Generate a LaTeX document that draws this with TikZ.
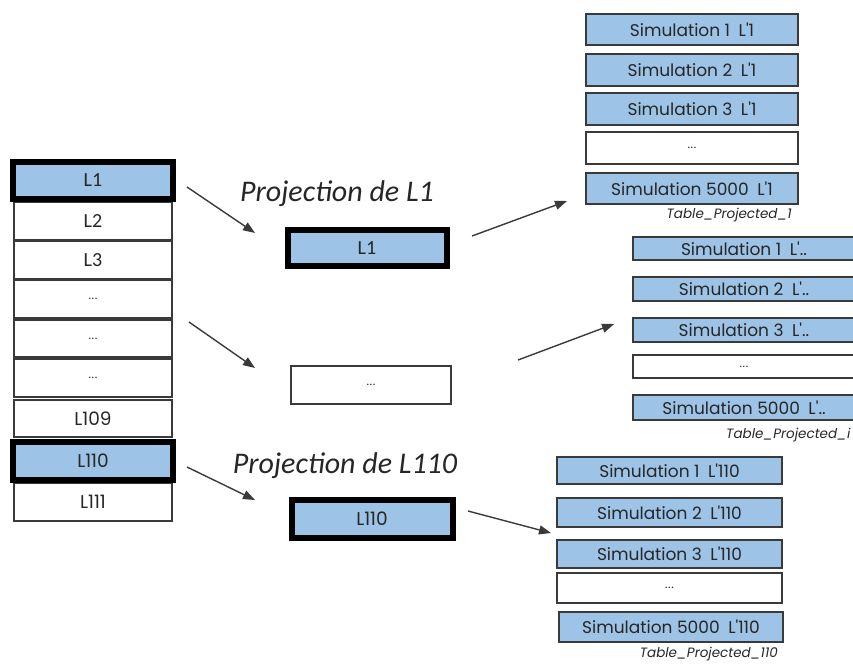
\documentclass[tikz,border=0pt]{standalone}
\usepackage{fontspec}
\setmainfont{Carlito}
\newfontfamily\simfont{Poppins}
\usetikzlibrary{arrows.meta}
\definecolor{cellblue}{HTML}{9DC3E6}
\definecolor{edgegray}{HTML}{3A3A3A}
\definecolor{inkgray}{HTML}{262626}
\tikzset{
  cell/.style={draw=edgegray, line width=1.3pt, rectangle, inner sep=0pt,
    text=inkgray, font=\fontsize{20}{22}\selectfont},
  hot/.style={cell, draw=black, line width=6pt, fill=cellblue},
  geo/.style={font=\simfont\fontsize{18.5}{20}\selectfont},
  dots/.style={font=\fontsize{12}{14}\selectfont},
  simcell/.style={draw=edgegray, line width=1.3pt, rectangle, inner sep=0pt,
    text=inkgray, font=\simfont\fontsize{17}{19}\selectfont},
  simblue/.style={simcell, fill=cellblue},
  tablename/.style={inner sep=0pt, text=inkgray, font=\simfont\itshape\fontsize{13.5}{15}\selectfont},
  heading/.style={inner sep=0pt, text=inkgray, font=\itshape\fontsize{30}{34}\selectfont},
  flow/.style={draw=edgegray, line width=1.4pt, -{Triangle[length=12pt,width=9pt]}}
}
\begin{document}
\begin{tikzpicture}[x=1pt,y=-1pt]
\useasboundingbox (0,0) rectangle (853,664);

% source column of lines
\node[cell, minimum width=158, minimum height=38] (l2)   at (93,221)   {L2};
\node[cell, minimum width=158, minimum height=38] (l3)   at (93,260)   {L3};
\node[cell, dots, minimum width=158, minimum height=38] (d1)   at (93,299)   {...};
\node[cell, dots, minimum width=158, minimum height=37] (d2)   at (93,338.5) {...};
\node[cell, dots, minimum width=158, minimum height=38] (d3)   at (93,378)   {...};
\node[cell, geo, minimum width=158, minimum height=37] (l109) at (93,418.5) {L109};
\node[cell, geo, minimum width=158, minimum height=38] (l111) at (93,502)   {L111};
\node[hot,  minimum width=160, minimum height=37] (l1)   at (93,180.5) {L1};
\node[hot,  geo, minimum width=160, minimum height=38] (l110) at (93,461)   {L110};

% projected lines
\node[heading] (h1)   at (337,194) {Projection de L1};
\node[hot,  minimum width=159, minimum height=36] (p1)   at (367,248)   {L1};
\node[cell, dots, minimum width=160, minimum height=38] (pd)   at (371,385)   {...};
\node[heading] (h110) at (345,466) {Projection de L110};
\node[hot,  geo, minimum width=161, minimum height=38] (p110) at (372,518.5) {L110};

% table for L1
\node[simblue, minimum width=212, minimum height=31] (ta1) at (692,29.5)  {Simulation 1\enspace L'1};
\node[simblue, minimum width=212, minimum height=32] (ta2) at (692,70)    {Simulation 2\enspace L'1};
\node[simblue, minimum width=212, minimum height=32] (ta3) at (692,109)   {Simulation 3\enspace L'1};
\node[simcell, dots, minimum width=212, minimum height=32] (ta4) at (692,148)   {...};
\node[simblue, minimum width=212, minimum height=31] (ta5) at (692,188.5) {Simulation 5000\enspace L'1};
\node[tablename, anchor=east] (tna) at (792,215) {Table\_Projected\_1};

% table for an intermediate line
\node[simblue, minimum width=222, minimum height=23] (tb1) at (744,248.5) {Simulation 1\enspace L'..};
\node[simblue, minimum width=222, minimum height=24] (tb2) at (744,289)   {Simulation 2\enspace L'..};
\node[simblue, minimum width=222, minimum height=24] (tb3) at (744,330)   {Simulation 3\enspace L'..};
\node[simcell, dots, minimum width=222, minimum height=23] (tb4) at (744,366.5) {...};
\node[simblue, minimum width=222, minimum height=25] (tb5) at (744,407.5) {Simulation 5000\enspace L'..};
\node[tablename, anchor=west] (tnb) at (726,435) {Table\_Projected\_i};

% table for L110
\node[simblue, minimum width=225, minimum height=27] (tc1) at (669.5,470.5) {Simulation 1\enspace L'110};
\node[simblue, minimum width=225, minimum height=29] (tc2) at (669.5,512.5) {Simulation 2\enspace L'110};
\node[simblue, minimum width=225, minimum height=28] (tc3) at (669.5,554)   {Simulation 3\enspace L'110};
\node[simcell, dots, minimum width=225, minimum height=30] (tc4) at (669.5,588)   {...};
\node[simblue, minimum width=224, minimum height=30] (tc5) at (671,627)     {Simulation 5000\enspace L'110};
\node[tablename, anchor=east] (tnc) at (778,654) {Table\_Projected\_110};

% arrow end points
\coordinate (a1s) at (187,187); \coordinate (a1e) at (255,233);
\coordinate (a2s) at (189,322); \coordinate (a2e) at (255,368);
\coordinate (a3s) at (187,467); \coordinate (a3e) at (255,500);
\coordinate (a4s) at (472,236); \coordinate (a4e) at (567,201);
\coordinate (a5s) at (518,360); \coordinate (a5e) at (614,324);
\coordinate (a6s) at (468,511); \coordinate (a6e) at (551,533);

\draw[flow] (a1s) -- (a1e);
\draw[flow] (a2s) -- (a2e);
\draw[flow] (a3s) -- (a3e);
\draw[flow] (a4s) -- (a4e);
\draw[flow] (a5s) -- (a5e);
\draw[flow] (a6s) -- (a6e);
\end{tikzpicture}
\end{document}
